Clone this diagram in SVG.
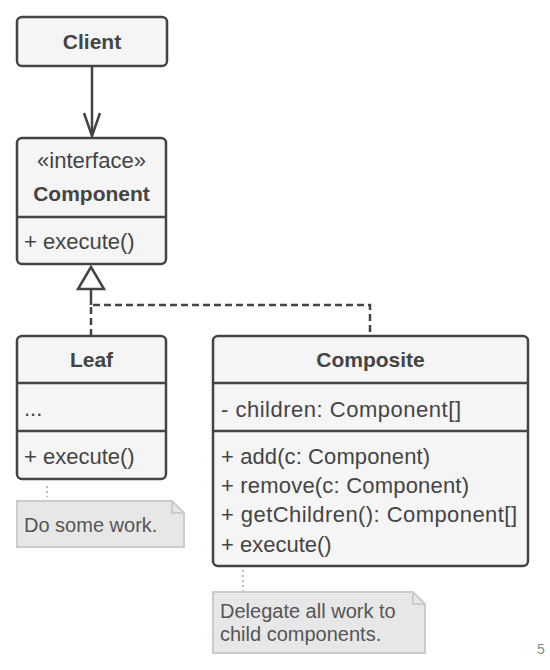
<svg xmlns="http://www.w3.org/2000/svg" width="550" height="670" viewBox="0 0 550 670">
<style>
.box{fill:#f5f5f5;stroke:#444;stroke-width:2.5}
.div{stroke:#444;stroke-width:2.5}
.t{font-family:"Liberation Sans",Arial,sans-serif;font-size:22px;fill:#444}
.b{font-weight:bold;font-size:21px;text-anchor:middle}
.note{fill:#e7e7e7;stroke:#cbcbcb;stroke-width:2}
.nt{font-family:"Liberation Sans",Arial,sans-serif;font-size:20px;fill:#555}
.dash{fill:none;stroke:#444;stroke-width:2.5;stroke-dasharray:7 4}
.dot{fill:none;stroke:#bbb;stroke-width:2;stroke-dasharray:2 3}
</style>
<rect width="550" height="670" fill="#fff"/>
<g id="connectors">
<line x1="92" y1="66" x2="92" y2="136" stroke="#444" stroke-width="2.5"/>
<polyline points="84,113 92,136 100,113" fill="none" stroke="#444" stroke-width="2.5"/>
<polyline class="dash" points="91,336 91,305 370,305 370,336"/>
<line x1="91" y1="290" x2="91" y2="305" stroke="#444" stroke-width="2.5"/>
<polygon points="91,267 78,289 104,289" fill="#fff" stroke="#444" stroke-width="2.5"/>
<line class="dot" x1="47" y1="486" x2="47" y2="497"/>
<line class="dot" x1="243" y1="570" x2="243" y2="591"/>
</g>
<g id="client">
<rect class="box" x="17" y="17" width="150" height="49" rx="5"/>
<text class="t b" x="92" y="49">Client</text>
</g>
<g id="component">
<rect class="box" x="17" y="138" width="149" height="126" rx="5"/>
<line class="div" x1="17" y1="217" x2="166" y2="217"/>
<text class="t" x="91.5" y="168" text-anchor="middle">«interface»</text>
<text class="t b" x="91.5" y="201">Component</text>
<text class="t" x="24" y="249">+ execute()</text>
</g>
<g id="leaf">
<rect class="box" x="17" y="336" width="149" height="143" rx="5"/>
<line class="div" x1="17" y1="383" x2="166" y2="383"/>
<line class="div" x1="17" y1="431" x2="166" y2="431"/>
<text class="t b" x="91.5" y="367">Leaf</text>
<text class="t" x="24" y="416">...</text>
<text class="t" x="24" y="464">+ execute()</text>
</g>
<g id="composite">
<rect class="box" x="213" y="336" width="315" height="230" rx="5"/>
<line class="div" x1="213" y1="383" x2="528" y2="383"/>
<line class="div" x1="213" y1="431" x2="528" y2="431"/>
<text class="t b" x="370.5" y="367">Composite</text>
<text class="t" x="221" y="417" textLength="240">- children: Component[]</text>
<text class="t" x="221" y="464" textLength="209">+ add(c: Component)</text>
<text class="t" x="221" y="493" textLength="248">+ remove(c: Component)</text>
<text class="t" x="221" y="522" textLength="296">+ getChildren(): Component[]</text>
<text class="t" x="221" y="552">+ execute()</text>
</g>
<g id="note-leaf">
<path class="note" d="M17,501 H172 L184,513 V547 H17 Z"/>
<path d="M172,501 V513 H184" fill="none" stroke="#cbcbcb" stroke-width="2"/>
<text class="nt" x="24" y="532">Do some work.</text>
</g>
<g id="note-composite">
<path class="note" d="M213,592 H413 L425,604 V653 H213 Z"/>
<path d="M413,592 V604 H425" fill="none" stroke="#cbcbcb" stroke-width="2"/>
<text class="nt" x="220" y="618">Delegate all work to</text>
<text class="nt" x="220" y="641">child components.</text>
</g>
<text x="537" y="654" font-family="'Liberation Sans',Arial,sans-serif" font-size="14" fill="#888">5</text>
</svg>
